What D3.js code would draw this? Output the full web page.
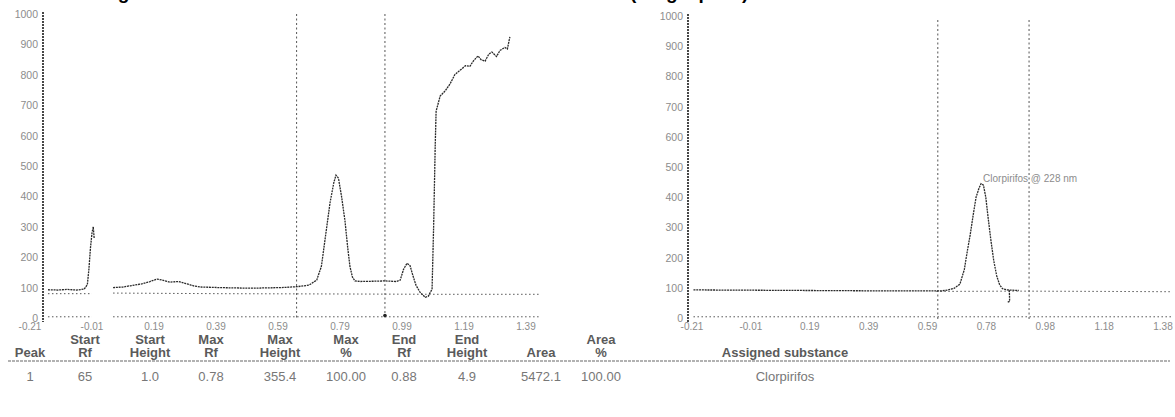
<!DOCTYPE html>
<html>
<head>
<meta charset="utf-8">
<script src="https://cdn.jsdelivr.net/npm/d3@7"></script>
<style>
  body { margin: 0; background: #fff; }
  svg { display: block; font-family: "Liberation Sans", Arial, sans-serif; }
  .ytick { font-size: 10.5px; fill: #8c8c8c; text-anchor: end; }
  .xtick { font-size: 10px; fill: #8c8c8c; text-anchor: middle; }
  .trace { fill: none; stroke: #2a2a2a; stroke-width: 1.3; stroke-dasharray: 2, 0.8; }
  .base { fill: none; stroke: #555; stroke-width: 1; stroke-dasharray: 1.5, 2.5; }
  .bound { stroke: #555; stroke-width: 1; stroke-dasharray: 2, 2.5; }
  .axis { stroke: #333; stroke-width: 1.8; stroke-dasharray: 2, 1; }
  .th { font-weight: bold; font-size: 13px; fill: #5a5a5a; text-anchor: middle; }
  .td { font-size: 13px; fill: #777; text-anchor: middle; }
</style>
</head>
<body>
<script>
// ---- values ----
var yTicks = [0, 100, 200, 300, 400, 500, 600, 700, 800, 900, 1000];
var xTickVals = [-0.21, -0.01, 0.19, 0.39, 0.59, 0.79, 0.99, 1.19, 1.39];
var leftTickLabels = ["-0.21", "-0.01", "0.19", "0.39", "0.59", "0.79", "0.99", "1.19", "1.39"];
var rightTickLabels = ["-0.21", "-0.01", "0.19", "0.39", "0.59", "0.78", "0.98", "1.18", "1.38"];

// left densitogram  [Rf, AU]
var leftSpike = [[-0.152,93],[-0.12,92],[-0.09,94],[-0.06,92],[-0.035,95],[-0.025,110],[-0.02,160],
  [-0.015,230],[-0.01,280],[-0.006,300],[-0.003,262]];
var leftTrace = [[0.058,100],[0.09,102],[0.113,106],[0.15,112],[0.177,120],[0.2,128],[0.215,125],
  [0.242,118],[0.27,120],[0.29,114],[0.32,105],[0.34,102],[0.4,100],[0.5,98],[0.6,100],[0.651,103],
  [0.69,108],[0.715,125],[0.73,170],[0.742,260],[0.758,380],[0.77,445],[0.777,470],[0.785,460],
  [0.795,400],[0.806,320],[0.815,230],[0.822,170],[0.83,135],[0.838,122],[0.855,120],[0.9,121],
  [0.935,122],[0.97,120],[0.984,124],[0.995,160],[1.006,180],[1.016,172],[1.025,140],[1.035,108],
  [1.048,85],[1.065,68],[1.075,72],[1.087,95],[1.092,300],[1.097,560],[1.1,680],[1.113,730],
  [1.13,748],[1.145,770],[1.16,800],[1.177,815],[1.195,830],[1.209,828],[1.22,845],[1.235,862],
  [1.245,850],[1.258,845],[1.27,868],[1.28,875],[1.295,860],[1.306,880],[1.322,890],[1.33,885],[1.338,925]];
var leftBaseA = [[-0.152,80],[-0.01,80]];
var leftBaseB = [[0.058,82],[0.4,80],[0.8,79],[1.1,78],[1.435,78]];
var leftZeroA = [[-0.152,4],[-0.01,4]];
var leftZeroB = [[0.058,4],[0.6,4],[1.435,4]];
var leftBounds = [0.65, 0.935];

// right densitogram  [Rf, AU]
var rightTrace = [[-0.205,93],[0.0,92],[0.2,91],[0.4,90],[0.6,90],[0.64,90],[0.66,93],[0.68,98],
  [0.7,112],[0.715,160],[0.725,220],[0.735,275],[0.745,340],[0.755,400],[0.765,430],[0.772,445],
  [0.78,440],[0.788,400],[0.795,340],[0.805,260],[0.815,190],[0.825,140],[0.835,110],[0.845,97],
  [0.86,93],[0.88,92],[0.9,91]];
var rightBase = [[0.62,88],[0.9,89],[1.2,88],[1.42,87]];
var rightHook = [[0.868,92],[0.869,55],[0.861,52]];
var rightZero = [[-0.205,4],[1.42,4]];
var rightBounds = [0.625, 0.935];
var peakLabel = "Clorpirifos @ 228 nm";
var peakRf = 0.772, peakAU = 445;

// report table
var head1 = ["", "Start", "Start", "Max", "Max", "Max", "End", "End", "", "Area", ""];
var head2 = ["Peak", "Rf", "Height", "Rf", "Height", "%", "Rf", "Height", "Area", "%", "Assigned substance"];
var row1 = ["1", "65", "1.0", "0.78", "355.4", "100.00", "0.88", "4.9", "5472.1", "100.00", "Clorpirifos"];
var colX = [30, 85, 150, 211, 280, 346, 404, 467, 541, 601, 785];

var W = 1175, H = 417;
var svg = d3.select("body").append("svg").attr("width", W).attr("height", H);

// title, cut off at the top of the scan (only descenders show)
svg.append("text").attr("x", 28).attr("y", -1).style("font-weight", "bold").style("font-size", "19px")
  .text("Chromatogram");
svg.append("text").attr("x", 630).attr("y", -1).style("font-weight", "bold").style("font-size", "19px")
  .text("(Single peak)");

function drawPanel(opt) {
  var x = d3.scaleLinear().domain([-0.21, 1.39]).range(opt.xr);
  var y = d3.scaleLinear().domain([0, 1000]).range(opt.yr);
  var g = svg.append("g");
  var line = d3.line().x(d => x(d[0])).y(d => y(d[1]));

  // y axis
  g.append("line").attr("class", "axis")
    .attr("x1", opt.axisX).attr("x2", opt.axisX)
    .attr("y1", y(1000) - 2).attr("y2", y(0) + 4);
  g.selectAll(".ytick").data(yTicks).enter().append("text")
    .attr("class", "ytick")
    .attr("x", opt.axisX - 5).attr("y", d => y(d) + 4)
    .text(d => d);

  // x tick labels
  g.selectAll(".xtick").data(xTickVals).enter().append("text")
    .attr("class", "xtick")
    .attr("x", d => x(d)).attr("y", y(0) + 12)
    .text((d, i) => opt.labels[i]);

  // integration bounds
  g.selectAll(".bound").data(opt.bounds).enter().append("line")
    .attr("class", "bound")
    .attr("x1", d => x(d)).attr("x2", d => x(d))
    .attr("y1", opt.boundTop).attr("y2", y(0) + 2);

  opt.bases.forEach(function (b) {
    g.append("path").datum(b).attr("class", "base").attr("d", line);
  });
  opt.traces.forEach(function (t) {
    g.append("path").datum(t).attr("class", "trace").attr("d", line);
  });
  return { x: x, y: y, g: g };
}

var left = drawPanel({
  xr: [30, 526], yr: [318, 14], axisX: 43, labels: leftTickLabels,
  bounds: leftBounds, boundTop: 14,
  bases: [leftBaseA, leftBaseB, leftZeroA, leftZeroB],
  traces: [leftSpike, leftTrace]
});
left.g.append("circle").attr("cx", left.x(leftBounds[1])).attr("cy", left.y(8)).attr("r", 1.8).attr("fill", "#222");

var right = drawPanel({
  xr: [692, 1163], yr: [318, 16], axisX: 688, labels: rightTickLabels,
  bounds: rightBounds, boundTop: 20,
  bases: [rightBase, rightZero],
  traces: [rightTrace, rightHook]
});
right.g.append("text")
  .attr("x", right.x(peakRf) + 2).attr("y", right.y(peakAU) - 2)
  .style("font-size", "10px").style("fill", "#8c8c8c")
  .text(peakLabel);

// table
var tb = svg.append("g");
tb.selectAll(".h1").data(head1).enter().append("text")
  .attr("class", "th").attr("x", (d, i) => colX[i]).attr("y", 344).text(d => d);
tb.selectAll(".h2").data(head2).enter().append("text")
  .attr("class", "th").attr("x", (d, i) => colX[i]).attr("y", 357).text(d => d);
tb.append("line").attr("x1", 8).attr("x2", 1170).attr("y1", 361).attr("y2", 361)
  .attr("stroke", "#666").attr("stroke-width", 1.2).attr("stroke-dasharray", "3,1");
tb.selectAll(".td").data(row1).enter().append("text")
  .attr("class", "td").attr("x", (d, i) => colX[i]).attr("y", 381).text(d => d);
</script>
</body>
</html>
